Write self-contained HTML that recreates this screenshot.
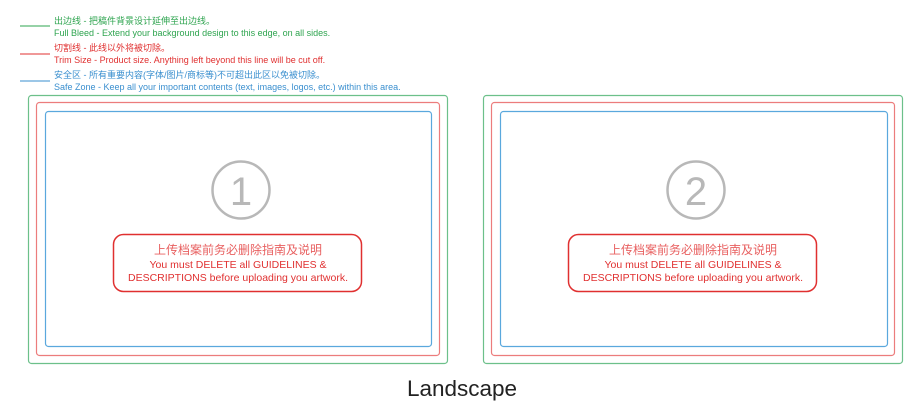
<!DOCTYPE html>
<html><head><meta charset="utf-8"><style>
body{margin:0;width:912px;height:402px;background:#fff;overflow:hidden;font-family:"Liberation Sans","Noto Sans CJK SC",sans-serif}
</style></head><body>
<svg width="912" height="402" xmlns="http://www.w3.org/2000/svg" style="position:absolute;left:0;top:0">
<g font-family="Liberation Sans, Noto Sans CJK SC, sans-serif" font-size="9">
<line x1="20" y1="26" x2="50" y2="26" stroke="#2ea44f" stroke-width="1"/>
<text x="54" y="24" fill="#2ea44f">出边线 - 把稿件背景设计延伸至出边线。</text>
<text x="54" y="36" fill="#2ea44f">Full Bleed - Extend your background design to this edge, on all sides.</text>
<line x1="20" y1="54" x2="50" y2="54" stroke="#e03030" stroke-width="1"/>
<text x="54" y="51" fill="#e03030">切割线 - 此线以外将被切除。</text>
<text x="54" y="63" fill="#e03030">Trim Size - Product size. Anything left beyond this line will be cut off.</text>
<line x1="20" y1="81" x2="50" y2="81" stroke="#3a8fcf" stroke-width="1"/>
<text x="54" y="78" fill="#3a8fcf">安全区 - 所有重要内容(字体/图片/商标等)不可超出此区以免被切除。</text>
<text x="54" y="90" fill="#3a8fcf">Safe Zone - Keep all your important contents (text, images, logos, etc.) within this area.</text>
</g>
<g fill="none" stroke-width="1.2">
<rect x="28.5" y="95.5" width="419" height="268" rx="3" stroke="#6cc08a"/>
<rect x="36.5" y="102.5" width="403" height="253" rx="3" stroke="#ec7c7c"/>
<rect x="45.5" y="111.5" width="386" height="235" rx="3" stroke="#5aa8dd"/>
<rect x="483.5" y="95.5" width="419" height="268" rx="3" stroke="#6cc08a"/>
<rect x="491.5" y="102.5" width="403" height="253" rx="3" stroke="#ec7c7c"/>
<rect x="500.5" y="111.5" width="387" height="235" rx="3" stroke="#5aa8dd"/>
<circle cx="241" cy="190" r="28.5" stroke="#b8b8b8" stroke-width="2.5"/>
<circle cx="696" cy="190" r="28.5" stroke="#b8b8b8" stroke-width="2.5"/>
<rect x="113.5" y="234.5" width="248" height="57" rx="10" stroke="#e03030" stroke-width="1.5"/>
<rect x="568.5" y="234.5" width="248" height="57" rx="10" stroke="#e03030" stroke-width="1.5"/>
</g>
<g font-family="Liberation Sans, Noto Sans CJK SC, sans-serif" text-anchor="middle">
<text x="241" y="205" font-size="40" fill="#b8b8b8">1</text>
<text x="696" y="205" font-size="40" fill="#b8b8b8">2</text>
<text x="238" y="254" font-size="12" fill="#e86060">上传档案前务必删除指南及说明</text>
<text x="238" y="268" font-size="10.5" fill="#e03030">You must DELETE all GUIDELINES &amp;</text>
<text x="238" y="281" font-size="10.5" fill="#e03030">DESCRIPTIONS before uploading you artwork.</text>
<text x="693" y="254" font-size="12" fill="#e86060">上传档案前务必删除指南及说明</text>
<text x="693" y="268" font-size="10.5" fill="#e03030">You must DELETE all GUIDELINES &amp;</text>
<text x="693" y="281" font-size="10.5" fill="#e03030">DESCRIPTIONS before uploading you artwork.</text>
<text x="462" y="396" font-size="22.5" fill="#222">Landscape</text>
</g>
</svg>
</body></html>
